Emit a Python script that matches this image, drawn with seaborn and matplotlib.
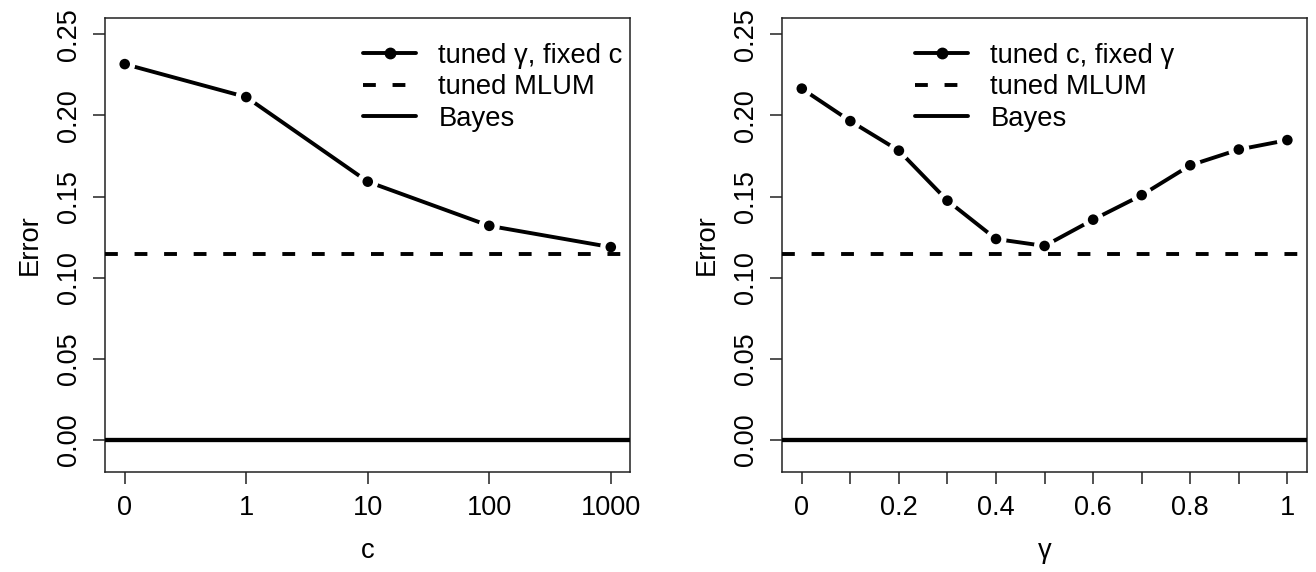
import numpy as np
import pandas as pd
import matplotlib
matplotlib.use("Agg")
import matplotlib.pyplot as plt
from matplotlib.lines import Line2D
import seaborn as sns

# ---------------- data ----------------
c_labels = ["0", "1", "10", "100", "1000"]
err_fixed_c = [0.2316, 0.2113, 0.1592, 0.1320, 0.1189]

gamma_vals = [0.0, 0.1, 0.2, 0.3, 0.4, 0.5, 0.6, 0.7, 0.8, 0.9, 1.0]
err_fixed_gamma = [0.2165, 0.1965, 0.1783, 0.1475, 0.1239, 0.1196,
                   0.1358, 0.1509, 0.1693, 0.1790, 0.1848]
gamma_tick_labels = ["0", "", "0.2", "", "0.4", "", "0.6", "", "0.8", "", "1"]

mlum_err = 0.1147
bayes_err = 0.0

y_ticks = [0.00, 0.05, 0.10, 0.15, 0.20, 0.25]
legend_left = ["tuned γ, fixed c", "tuned MLUM", "Bayes"]
legend_right = ["tuned c, fixed γ", "tuned MLUM", "Bayes"]

# ---------------- style ----------------
sns.set_theme(style="white")
plt.rcParams["font.family"] = ["Liberation Sans", "DejaVu Sans"]
plt.rcParams["text.color"] = "black"
plt.rcParams["axes.labelcolor"] = "black"
plt.rcParams["xtick.color"] = "black"
plt.rcParams["ytick.color"] = "black"

FS_TICK = 19.5
FS_LAB = 19.7
LW = 2.8
DASH = (0, (3.3, 4.3))
EDGE = "#222222"

fig = plt.figure(figsize=(13.16, 5.72), dpi=100)
ax1 = fig.add_axes([0.0800, 0.1743, 0.3989, 0.7948])
ax2 = fig.add_axes([0.5945, 0.1743, 0.3985, 0.7948])


def draw_panel(ax, x, y, xlim):
    df = pd.DataFrame({"x": x, "y": y})
    sns.lineplot(data=df, x="x", y="y", ax=ax, color="black", lw=LW, zorder=2)
    # white halo to mimic R type="b" gaps around points
    ax.scatter(df["x"], df["y"], s=230, color="white", edgecolor="none", zorder=3)
    ax.axhline(mlum_err, color="black", lw=LW, ls=DASH, zorder=4)
    ax.axhline(bayes_err, color="black", lw=LW + 0.3, zorder=4)
    ax.scatter(df["x"], df["y"], s=58, color="black", edgecolor="none", zorder=5)
    ax.set_xlim(*xlim)
    ax.set_ylim(-0.0198, 0.2602)
    ax.set_yticks(y_ticks)
    ax.set_yticklabels([f"{v:.2f}" for v in y_ticks], rotation=90, va="center")
    ax.set_ylabel("Error", fontsize=FS_LAB, labelpad=10)
    ax.tick_params(axis="both", which="major", direction="out", length=8.6,
                   width=1.1, color=EDGE, labelsize=FS_TICK, pad=8,
                   left=True, bottom=True)
    for sp in ax.spines.values():
        sp.set_linewidth(1.1)
        sp.set_color(EDGE)


# left panel
xpos = np.arange(len(c_labels))
draw_panel(ax1, xpos, err_fixed_c, (-0.16, len(c_labels) - 1 + 0.16))
ax1.set_xticks(xpos)
ax1.set_xticklabels(c_labels)
ax1.set_xlabel("c", fontsize=FS_LAB, labelpad=12)

# right panel
draw_panel(ax2, gamma_vals, err_fixed_gamma, (-0.04, 1.04))
ax2.set_xticks(gamma_vals)
ax2.set_xticklabels(gamma_tick_labels)
ax2.set_xlabel("γ", fontsize=FS_LAB, labelpad=12)


def make_handles():
    return [
        Line2D([], [], color="black", lw=LW, marker="o", markersize=7.5),
        Line2D([], [], color="black", lw=LW, ls=DASH),
        Line2D([], [], color="black", lw=LW),
    ]


for ax, labels, xa in [(ax1, legend_left, 0.491), (ax2, legend_right, 0.253)]:
    ax.legend(make_handles(), labels, loc="upper left",
              bbox_to_anchor=(xa, 0.945), frameon=False, fontsize=FS_LAB,
              handlelength=1.95, handletextpad=0.8, labelspacing=0.2,
              borderpad=0, borderaxespad=0)

fig.savefig("out.png", dpi=100, facecolor="white")
